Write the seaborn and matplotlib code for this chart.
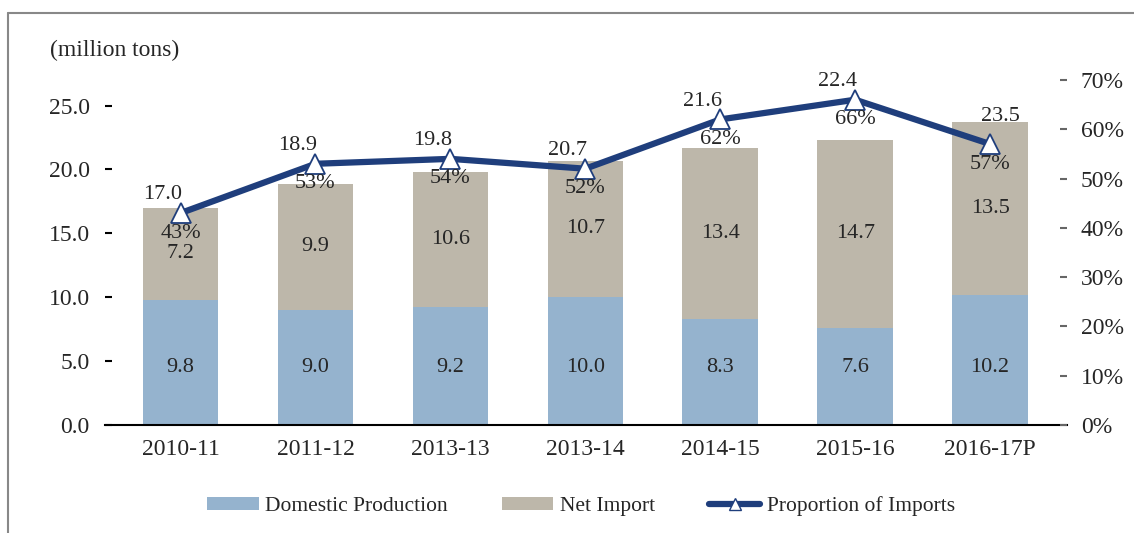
import numpy as np
import matplotlib
matplotlib.use("Agg")
import matplotlib.pyplot as plt
from matplotlib.patches import Patch
from matplotlib.lines import Line2D
import seaborn as sns

sns.set_theme(style="white")
plt.rcParams['font.family'] = ['Liberation Serif', 'DejaVu Serif']

#data
years = ["2010-11", "2011-12", "2013-13", "2013-14", "2014-15", "2015-16", "2016-17P"]
domestic = [9.8, 9.0, 9.2, 10.0, 8.3, 7.6, 10.2]
net_import = [7.2, 9.9, 10.6, 10.7, 13.4, 14.7, 13.5]
totals = [17.0, 18.9, 19.8, 20.7, 21.6, 22.4, 23.5]
import_share = [43, 53, 54, 52, 62, 66, 57]

dom_color = "#95b3ce"
imp_color = "#bdb7aa"
line_color = "#1f3e7c"
fs_tick = 17
fs_val = 16

fig = plt.figure(figsize=(11.34, 5.33), dpi=100)
ax = fig.add_axes([105/1134, 1 - 425/533, (1067 - 105)/1134, (425 - 80)/533])

stack_top = np.array(domestic) + np.array(net_import)
sns.barplot(x=years, y=stack_top, color=imp_color, width=0.56, saturation=1,
            edgecolor="none", linewidth=0, ax=ax)
sns.barplot(x=years, y=domestic, color=dom_color, width=0.56, saturation=1,
            edgecolor="none", linewidth=0, ax=ax)

ax.set_ylim(0, 27)
ax.set_xlim(-0.56, 6.57)
ax.set_yticks(np.arange(0, 26, 5))
ax.set_yticklabels([f"{v:.1f}" for v in np.arange(0, 26, 5)], fontsize=fs_tick)
ax.tick_params(axis="y", direction="in", length=5, width=1.5, color="black", pad=11, left=True)
ax.tick_params(axis="x", length=0, pad=10, labelsize=fs_tick)
ax.set_xlabel("")
ax.set_ylabel("")
for s in ["top", "right", "left"]:
    ax.spines[s].set_visible(False)
ax.spines["bottom"].set_color("black")
ax.spines["bottom"].set_linewidth(1.5)

# value labels inside the bars
for i in range(len(years)):
    ax.text(i, 4.5, f"{domestic[i]:.1f}", ha="center", va="center", fontsize=fs_val)
    ax.text(i, domestic[i] + net_import[i] / 2, f"{net_import[i]:.1f}",
            ha="center", va="center", fontsize=fs_val)

#line on right axis
ax2 = ax.twinx()
share = np.array(import_share) / 100
sns.lineplot(x=np.arange(len(years)), y=share, ax=ax2, color=line_color, linewidth=4.5,
             marker="^", markersize=15, markerfacecolor="white",
             markeredgecolor=line_color, markeredgewidth=1.3, sort=False)
ax2.set_ylim(0, 0.7)
ax2.set_yticks(np.arange(0, 0.71, 0.1))
ax2.set_yticklabels([f"{int(round(v*100))}%" for v in np.arange(0, 0.71, 0.1)], fontsize=fs_tick)
ax2.tick_params(axis="y", direction="in", length=5, width=1.5, color="#666666", pad=10, right=True)
for s in ["top", "right", "left", "bottom"]:
    ax2.spines[s].set_visible(False)
ax2.set_ylabel("")

scale = 27 / 0.7
for i in range(len(years)):
    ax2.annotate(f"{import_share[i]}%", xy=(i, share[i]), xytext=(0, -20),
                 textcoords="offset pixels", ha="center", va="center", fontsize=fs_val)
    ref = max(totals[i], share[i] * scale + 0.8) / scale
    dx = -18 if i < len(years) - 1 else 10
    ax2.annotate(f"{totals[i]:.1f}", xy=(i, ref), xytext=(dx, 8),
                 textcoords="offset pixels", ha="center", va="center", fontsize=fs_val)

fig.text(50/1134, 1 - 50/533, "(million tons)", ha="left", va="center", fontsize=fs_tick)

#legend
handles = [Patch(facecolor=dom_color, edgecolor="none", label="Domestic Production"),
           Patch(facecolor=imp_color, edgecolor="none", label="Net Import"),
           Line2D([0], [0], color=line_color, linewidth=4.5, marker="^", markersize=9,
                  markerfacecolor="white", markeredgecolor=line_color, label="Proportion of Imports")]
fig.legend(handles=handles, loc="center", bbox_to_anchor=(581/1134, 1 - 506/533), ncol=3,
           frameon=False, fontsize=15.5, handlelength=2.4, handleheight=0.55,
           handletextpad=0.3, columnspacing=2.5)

# partial frame
fig.add_artist(Line2D([8/1134, 8/1134], [0, 1 - 13/533], transform=fig.transFigure,
                      color="#888888", linewidth=1.5))
fig.add_artist(Line2D([8/1134, 1], [1 - 13/533, 1 - 13/533], transform=fig.transFigure,
                      color="#888888", linewidth=1.5))

fig.savefig("out.png", dpi=100)
